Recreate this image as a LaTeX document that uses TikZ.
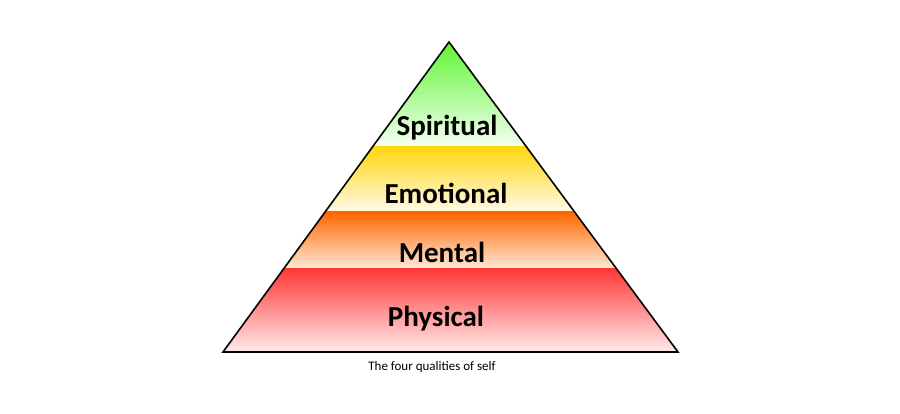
\documentclass[tikz,border=0pt]{standalone}
\usepackage{fontspec}
\setmainfont{Carlito}
\usepackage{tikz}

\definecolor{spirittop}{HTML}{5CF52E}
\definecolor{spiritbot}{HTML}{F4FFF2}
\definecolor{emotop}{HTML}{FFD710}
\definecolor{emobot}{HTML}{FFF9E6}
\definecolor{menttop}{HTML}{FF6600}
\definecolor{mentbot}{HTML}{FFE8D4}
\definecolor{phystop}{HTML}{FF3838}
\definecolor{physbot}{HTML}{FFF0F0}

\tikzset{
	band/.style={draw=none},
	level/.style={font=\fontsize{29}{31}\selectfont\bfseries, inner sep=0pt},
	caption/.style={font=\fontsize{13}{15}\selectfont, inner sep=0pt}
}

\begin{document}
\begin{tikzpicture}[x=1pt, y=-1pt]
			\useasboundingbox (0, 0) rectangle (900, 414);

			\coordinate (apex) at (449, 42);
			\coordinate (baseL) at (223, 352);
			\coordinate (baseR) at (678, 352);

			\begin{scope}
				\clip (apex) -- (baseL) -- (baseR) -- cycle;
				\shade [band, top color=spirittop, bottom color=spiritbot] (200, 40) rectangle (700, 146);
				\shade [band, top color=emotop, bottom color=emobot] (200, 147) rectangle (700, 211);
				\shade [band, top color=menttop, middle color=menttop, bottom color=mentbot] (200, 212) rectangle (700, 268);
				\shade [band, top color=phystop, bottom color=physbot] (200, 269) rectangle (700, 354);
			\end{scope}

			\draw [line width=1.6pt, line join=miter] (apex) -- (baseL) -- (baseR) -- cycle;

			\node [level] (spiritual) at (447, 128) {Spiritual};
			\node [level] (emotional) at (446, 193) {Emotional};
			\node [level] (mental) at (442, 252) {Mental};
			\node [level] (physical) at (436, 319) {Physical};

			\node [caption] (title) at (432, 367) {The four qualities of self};
		\end{tikzpicture}
\end{document}
